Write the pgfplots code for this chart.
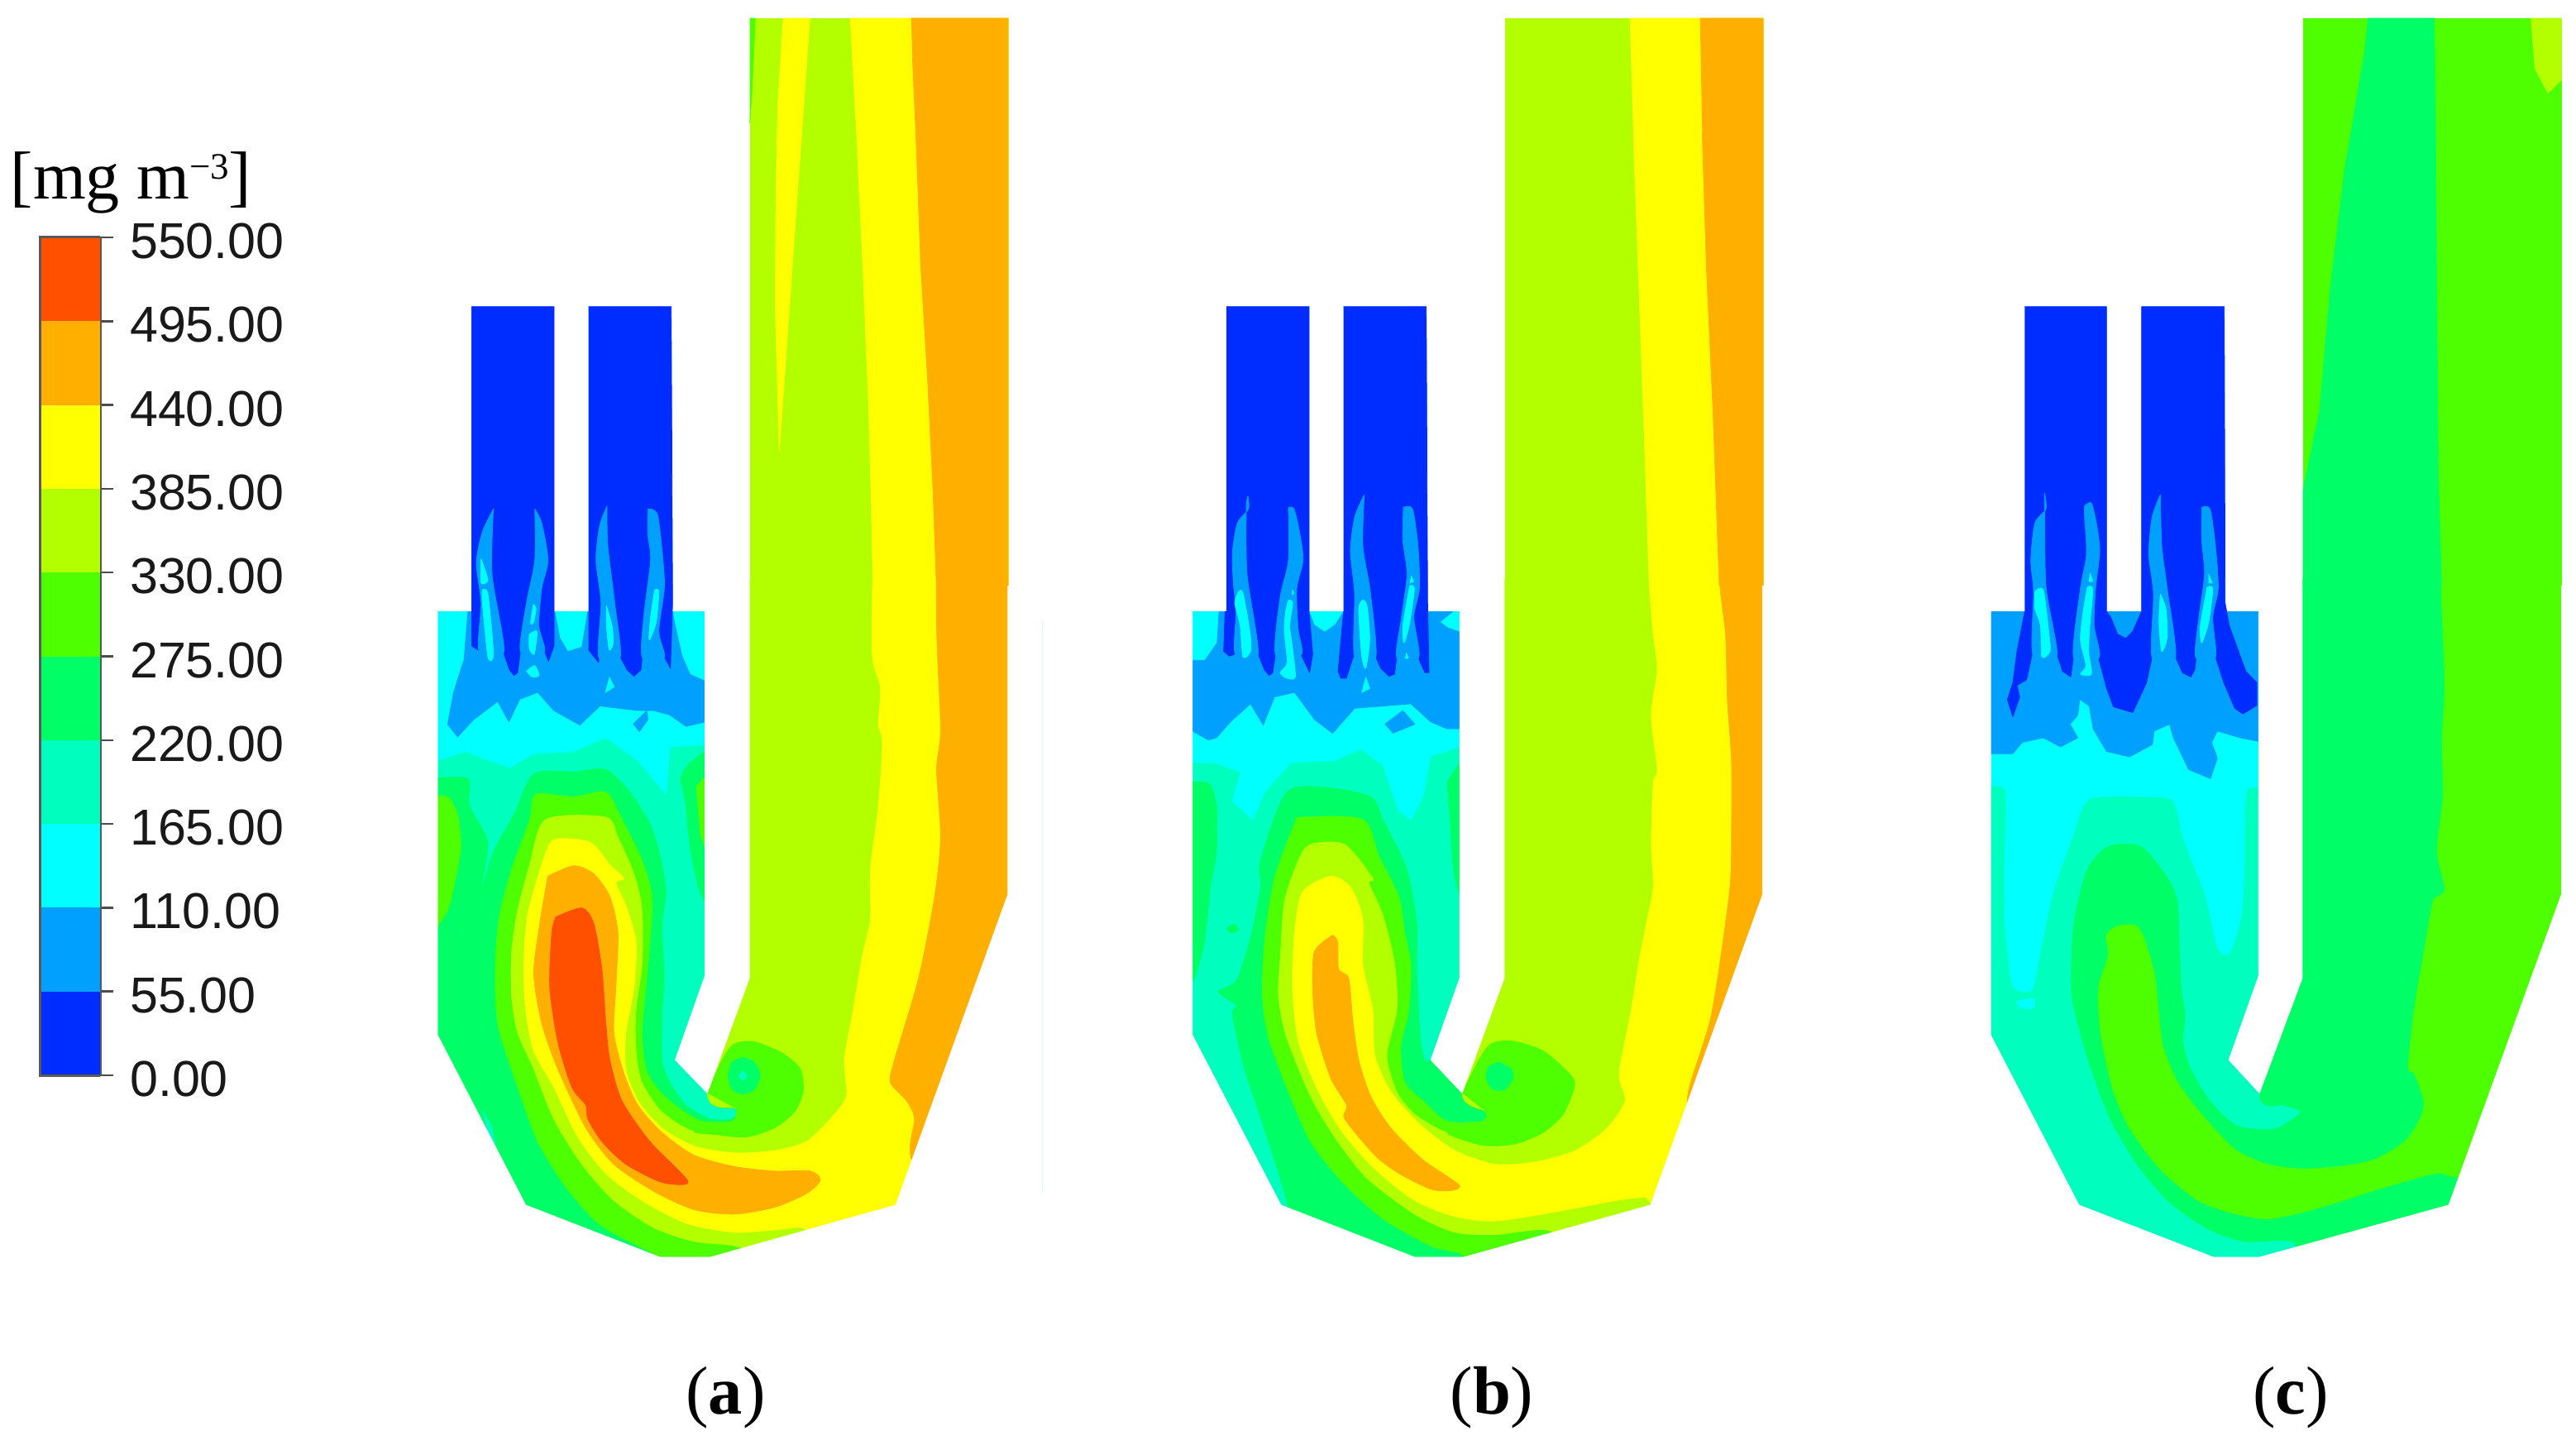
\documentclass[border=0pt]{standalone}
\usepackage{fontspec}
\setmainfont{Liberation Sans}
\newfontfamily\serif{Liberation Serif}
\usepackage{pgfplots}
\pgfplotsset{compat=1.18}
\definecolor{ca}{RGB}{0,45,255}
\definecolor{cb}{RGB}{0,160,255}
\definecolor{cc}{RGB}{0,255,255}
\definecolor{cd}{RGB}{0,255,191}
\definecolor{ce}{RGB}{0,255,102}
\definecolor{cf}{RGB}{77,255,0}
\definecolor{cg}{RGB}{179,255,0}
\definecolor{ch}{RGB}{255,255,0}
\definecolor{ci}{RGB}{255,175,0}
\definecolor{cj}{RGB}{255,80,0}
\pgfplotsset{
 rg/.style={fill=#1,draw=#1,line width=0.15pt,line join=round},
 sm/.style={rg=#1,smooth,tension=0.45},
 pan/.style={hide axis,scale only axis,y dir=reverse,enlargelimits=false,clip=true,anchor=north west},
 low/.style={pan,height=172pt,xmin=0,xmax=1568,ymin=0,ymax=1568},
 upp/.style={pan,width=72pt,height=141.4pt,xmin=0,xmax=1080,ymin=0,ymax=1540},
 bur/.style={pan,width=68pt,height=108pt,xmin=0,xmax=1020,ymin=0,ymax=1568},
}
\begin{document}
\begin{tikzpicture}
\path[use as bounding box] (0,0) rectangle (623pt,-350.4pt);
% ---------- panel a, lower part
\begin{axis}[low,at={(100pt,-140pt)},width=152pt]
\addplot[rg=cd] coordinates {(60,70)(727,70)(727,875)(653,1060)(733,1133)(838,880)(838,0)(1483,0)(1483,695)(1203,1380)(740,1495)(615,1495)(280,1380)(60,1005)};
\addplot[rg=cc] coordinates {(60,70)(727,70)(727,365)(640,370)(630,475)(560,400)(480,350)(400,380)(300,385)(240,415)(190,400)(130,380)(60,400)};
\addplot[rg=cb] coordinates {(135,70)(352,70)(365,130)(385,160)(420,150)(435,70)(645,70)(670,170)(690,210)(727,225)(727,315)(680,325)(640,300)(600,290)(560,290)(465,280)(415,322)(350,290)(310,250)(265,265)(238,315)(210,270)(150,310)(110,348)(85,320)(100,250)(125,180)};
\addplot[rg=cb] coordinates {(548,320)(582,290)(585,310)(563,337)};
\addplot[sm=ce] coordinates {(40,440)(135,440)(140,500)(185,580)(170,680)(200,600)(250,520)(300,430)(400,425)(480,420)(540,470)(590,540)(615,610)(630,690)(620,760)(625,880)(620,960)(620,1060)(640,1110)(680,1160)(740,1190)(795,1190)(806,1168)(733,1133)(790,800)(790,-300)(1500,-300)(1500,1540)(40,1540)};
\addplot[sm=ce] coordinates {(665,440)(690,405)(750,395)(750,710)(715,690)(690,590)(680,500)};
\addplot[sm=cf] coordinates {(705,460)(750,430)(750,630)(715,560)};
\addplot[sm=cf] coordinates {(40,480)(85,480)(110,520)(118,590)(105,660)(85,730)(40,790)};
\addplot[rg=cd] coordinates {(170,1170)(195,1205)(205,1250)(190,1230)};
\addplot[sm=cf] coordinates {(620,1540)(600,1490)(560,1470)(460,1420)(380,1340)(310,1240)(260,1120)(215,1000)(205,930)(205,830)(215,740)(245,640)(290,530)(305,475)(400,480)(480,470)(520,530)(570,620)(595,700)(590,800)(580,900)(570,1000)(580,1080)(610,1125)(660,1165)(720,1195)(795,1195)(806,1168)(733,1133)(790,800)(790,-300)(1500,-300)(1500,1540)};
\addplot[sm=cg] coordinates {(830,1540)(820,1475)(700,1460)(600,1430)(500,1370)(420,1290)(350,1190)(300,1080)(260,1000)(245,920)(245,820)(260,730)(290,630)(330,530)(480,525)(510,570)(550,650)(570,730)(570,850)(555,950)(555,1040)(570,1110)(620,1175)(700,1218)(800,1218)(806,1168)(733,1133)(790,800)(790,-300)(1500,-300)(1500,1540)};
\addplot[sm=ch] coordinates {(990,1540)(980,1435)(900,1435)(800,1440)(680,1420)(570,1370)(480,1310)(410,1230)(350,1120)(300,1040)(280,950)(275,850)(285,740)(320,630)(350,575)(440,580)(490,630)(525,660)(505,670)(530,720)(555,800)(550,900)(530,1000)(530,1080)(560,1150)(620,1210)(700,1250)(800,1265)(900,1260)(980,1240)(1040,1190)(1080,1140)(1075,1060)(1095,960)(1120,830)(1140,750)(1140,640)(1160,500)(1170,360)(1160,320)(1165,240)(1145,170)(1145,0)(1145,-300)(1500,-300)(1500,1540)};
\addplot[sm=cf] coordinates {(733,1133)(770,1060)(800,1025)(850,1020)(920,1045)(965,1080)(972,1130)(950,1175)(900,1210)(830,1230)(760,1225)(700,1218)(795,1195)(806,1168)};
\addplot[sm=ce] coordinates {(822,1055)(850,1065)(865,1095)(850,1125)(822,1135)(795,1125)(785,1095)(795,1065)(822,1055)};
\addplot[sm=cd] coordinates {(822,1085)(832,1095)(822,1105)(812,1095)(822,1085)};
\addplot[sm=ci] coordinates {(1305,-300)(1305,100)(1315,330)(1305,420)(1315,570)(1300,700)(1260,880)(1200,1060)(1190,1110)(1230,1150)(1250,1190)(1240,1270)(1300,1400)(1500,1540)(1500,-300)};
\addplot[sm=ci] coordinates {(335,655)(400,632)(450,650)(490,700)(510,780)(505,900)(500,1000)(525,1090)(560,1160)(620,1220)(700,1270)(800,1295)(900,1305)(990,1305)(1015,1325)(980,1355)(900,1385)(800,1400)(700,1390)(600,1350)(500,1290)(430,1210)(360,1080)(320,980)(300,870)(315,760)(335,655)};
\addplot[sm=cj] coordinates {(355,745)(420,725)(450,760)(470,860)(480,980)(490,1060)(520,1150)(590,1240)(685,1328)(620,1330)(530,1290)(470,1240)(435,1190)(430,1160)(395,1120)(360,1020)(340,900)(345,780)(355,745)};
\addplot[rg=white] coordinates {(-30,-30)(838,-30)(838,880)(733,1133)(653,1060)(727,875)(727,70)(60,70)(60,1005)(280,1380)(615,1495)(740,1495)(1203,1380)(1483,695)(1483,-30)(1650,-30)(1650,1650)(-30,1650)};
\end{axis}
% ---------- panel a, duct
\begin{axis}[upp,at={(176pt,0pt)}]
\addplot[rg=cg] coordinates {(80,48)(1017,48)(1017,1545)(80,1545)};
\addplot[rg=cf] coordinates {(80,48)(100,48)(88,240)(80,325)};
\addplot[rg=ch] coordinates {(200,48)(298,48)(240,640)(187,1190)(172,800)(175,500)(182,260)};
\addplot[rg=ch] coordinates {(443,48)(1017,48)(1017,1545)(527,1545)(520,1300)(510,1050)(490,700)(470,400)};
\addplot[rg=ci] coordinates {(665,48)(1017,48)(1017,1545)(757,1545)(745,1300)(725,1000)(700,700)(685,400)(670,150)};
\end{axis}
% ---------- panel a, burners
\begin{axis}[bur,at={(108pt,-70pt)}]
\addplot[rg=ca] coordinates {(90,60)(390,60)(390,1250)(370,1305)(355,1270)(268,1270)(258,1345)(245,1355)(228,1335)(205,1270)(120,1270)(90,1250)};
\addplot[sm=cb] coordinates {(170,770)(130,850)(108,960)(125,1100)(118,1272)(208,1272)(165,1000)(170,770)};
\addplot[sm=cb] coordinates {(320,770)(345,820)(368,950)(345,1050)(335,1180)(355,1272)(268,1272)(290,1100)(320,950)(320,770)};
\addplot[sm=cc] coordinates {(125,945)(150,1020)(125,1030)(125,945)};
\addplot[sm=cc] coordinates {(130,1055)(150,1070)(170,1280)(150,1290)(130,1100)(130,1055)};
\addplot[sm=cc] coordinates {(315,1105)(325,1120)(315,1170)(305,1170)(315,1105)};
\addplot[sm=cc] coordinates {(300,1210)(328,1200)(318,1280)(300,1260)(300,1210)};
\addplot[sm=cc] coordinates {(290,1340)(320,1320)(335,1355)(310,1360)(290,1340)};
\addplot[rg=ca] coordinates {(515,60)(815,60)(820,1100)(812,1330)(790,1290)(710,1290)(705,1335)(680,1358)(655,1335)(630,1290)(552,1290)(552,1310)(515,1265)};
\addplot[sm=cb] coordinates {(582,760)(555,830)(542,950)(560,1100)(552,1292)(630,1292)(610,1100)(585,900)(582,760)};
\addplot[sm=cb] coordinates {(730,770)(765,790)(785,950)(790,1050)(770,1200)(790,1292)(710,1292)(715,1150)(740,950)(730,860)(730,770)};
\addplot[sm=cc] coordinates {(580,1110)(600,1180)(605,1240)(590,1265)(580,1180)(580,1110)};
\addplot[sm=cc] coordinates {(755,1055)(770,1060)(760,1170)(735,1230)(740,1150)(755,1055)};
\addplot[rg=cc] coordinates {(590,1360)(608,1395)(575,1415)};
\end{axis}
% ---------- panel b, lower part
\begin{axis}[low,at={(284pt,-140pt)},width=152pt]
\addplot[rg=cd] coordinates {(45,70)(712,70)(712,880)(640,1060)(718,1133)(823,880)(823,0)(1468,0)(1468,695)(1188,1380)(722,1495)(600,1495)(266,1380)(45,1005)};
\addplot[rg=cc] coordinates {(45,70)(712,70)(712,370)(640,390)(620,480)(590,530)(560,510)(520,410)(465,375)(400,400)(290,405)(225,470)(195,530)(145,490)(165,425)(100,405)(45,405)};
\addplot[rg=cb] coordinates {(45,70)(712,70)(712,330)(680,330)(640,315)(590,275)(450,285)(395,340)(350,310)(300,250)(250,260)(222,322)(190,275)(140,315)(105,350)(85,355)(45,335)};
\addplot[rg=cc] coordinates {(45,70)(110,70)(105,140)(75,178)(45,178)};
\addplot[rg=cc] coordinates {(336,70)(422,70)(400,100)(375,115)(350,100)};
\addplot[rg=cc] coordinates {(665,95)(700,70)(712,70)(712,115)(680,105)};
\addplot[rg=cb] coordinates {(525,320)(570,290)(600,320)(545,340)};
\addplot[sm=ce] coordinates {(300,1540)(285,1388)(220,1200)(175,1080)(145,960)(155,940)(110,910)(155,885)(190,790)(215,680)(215,620)(280,470)(380,460)(490,480)(520,530)(580,640)(605,760)(605,860)(615,1020)(640,1060)(770,900)(770,-300)(1500,-300)(1500,1540)};
\addplot[sm=ce] coordinates {(25,450)(85,450)(105,500)(105,600)(90,680)(75,800)(50,880)(25,905)};
\addplot[sm=ce] coordinates {(680,450)(735,405)(735,730)(700,660)(690,560)};
\addplot[sm=ce] coordinates {(130,770)(150,760)(160,775)(140,780)(130,770)};
\addplot[sm=cf] coordinates {(730,1540)(720,1490)(640,1470)(520,1410)(420,1330)(340,1240)(280,1120)(235,1010)(220,920)(225,800)(250,660)(300,540)(320,525)(470,530)(510,610)(560,700)(575,780)(590,850)(585,950)(565,1030)(575,1110)(620,1150)(680,1195)(770,1195)(778,1175)(718,1133)(770,900)(770,-300)(1500,-300)(1500,1540)};
\addplot[sm=cg] coordinates {(950,1540)(940,1438)(800,1445)(700,1440)(600,1400)(480,1320)(400,1230)(340,1140)(280,1010)(260,920)(265,830)(275,710)(310,620)(340,585)(425,585)(495,660)(485,670)(520,740)(550,850)(555,950)(530,1050)(555,1130)(600,1180)(680,1220)(770,1220)(778,1175)(718,1133)(770,900)(770,-300)(1500,-300)(1500,1540)};
\addplot[sm=ch] coordinates {(1175,1362)(1100,1370)(950,1395)(800,1415)(700,1405)(600,1370)(500,1300)(420,1220)(360,1130)(310,1020)(295,900)(300,780)(320,690)(390,655)(440,680)(470,750)(470,850)(495,950)(500,1050)(540,1130)(610,1200)(700,1260)(800,1290)(900,1285)(1000,1260)(1080,1210)(1125,1150)(1110,1090)(1140,950)(1160,840)(1180,750)(1195,680)(1190,580)(1195,450)(1205,420)(1190,300)(1205,200)(1195,120)(1185,0)(1185,-300)(1500,-300)(1500,1540)(1230,1420)};
\addplot[sm=cf] coordinates {(718,1133)(760,1060)(790,1025)(840,1018)(920,1040)(990,1095)(998,1120)(970,1180)(920,1220)(850,1245)(770,1248)(680,1220)(770,1195)(778,1175)};
\addplot[sm=ce] coordinates {(810,1065)(840,1080)(845,1100)(825,1125)(795,1125)(778,1100)(785,1075)(810,1065)};
\addplot[sm=ci] coordinates {(395,785)(408,800)(410,860)(435,880)(445,970)(460,1060)(490,1140)(540,1210)(620,1280)(710,1335)(690,1348)(640,1345)(560,1310)(500,1270)(425,1190)(430,1160)(390,1100)(355,1000)(345,900)(350,820)(395,785)};
\addplot[sm=ci] coordinates {(1345,-300)(1360,0)(1375,120)(1380,270)(1390,400)(1390,560)(1385,690)(1340,960)(1280,1145)(1320,1250)(1500,1540)(1500,-300)};
\addplot[rg=white] coordinates {(-30,-30)(823,-30)(823,880)(718,1133)(640,1060)(712,880)(712,70)(45,70)(45,1005)(266,1380)(600,1495)(722,1495)(1188,1380)(1468,695)(1468,-30)(1650,-30)(1650,1650)(-30,1650)};
\end{axis}
% ---------- panel b, duct
\begin{axis}[upp,at={(360pt,0pt)}]
\addplot[rg=cg] coordinates {(60,48)(996,48)(996,1545)(60,1545)};
\addplot[rg=ch] coordinates {(512,48)(996,48)(996,1545)(583,1545)(565,1150)(545,750)(525,350)};
\addplot[rg=ci] coordinates {(767,48)(996,48)(996,1545)(837,1545)(815,1100)(790,700)(775,350)};
\end{axis}
% ---------- panel b, burners
\begin{axis}[bur,at={(290.6pt,-70pt)}]
\addplot[rg=ca] coordinates {(90,60)(390,60)(390,1130)(403,1280)(392,1345)(360,1280)(268,1280)(258,1345)(245,1355)(228,1335)(205,1280)(122,1280)(100,1287)(80,1270)(85,1130)(90,1130)};
\addplot[sm=cb] coordinates {(168,725)(170,770)(130,820)(112,920)(115,1030)(125,1130)(122,1282)(205,1282)(165,1000)(162,770)(168,725)};
\addplot[sm=cb] coordinates {(315,765)(335,770)(355,850)(368,950)(345,1050)(350,1190)(362,1282)(268,1282)(285,1080)(315,950)(315,765)};
\addplot[sm=cc] coordinates {(135,1060)(150,1065)(175,1200)(178,1270)(150,1290)(140,1180)(120,1100)(135,1060)};
\addplot[sm=cc] coordinates {(315,1090)(330,1100)(320,1180)(330,1260)(340,1360)(310,1365)(285,1345)(310,1310)(300,1200)(305,1130)(315,1090)};
\addplot[rg=cc] coordinates {(328,1055)(335,1065)(328,1072)};
\addplot[rg=ca] coordinates {(515,60)(815,60)(820,1100)(825,1345)(810,1345)(785,1290)(708,1290)(700,1350)(680,1358)(650,1330)(632,1290)(550,1290)(525,1365)(505,1365)(495,1340)(515,1130)};
\addplot[sm=cb] coordinates {(590,720)(555,800)(540,920)(555,1070)(555,1292)(632,1292)(612,1060)(585,900)(590,720)};
\addplot[sm=cb] coordinates {(732,765)(765,770)(785,900)(790,1050)(770,1150)(788,1292)(708,1292)(725,1150)(745,1000)(730,880)(732,765)};
\addplot[sm=cc] coordinates {(585,1090)(600,1110)(610,1230)(595,1330)(580,1280)(570,1120)(585,1090)};
\addplot[rg=cc] coordinates {(595,1360)(610,1400)(580,1415)};
\addplot[sm=cc] coordinates {(755,1040)(772,1050)(755,1170)(735,1240)(730,1180)(755,1040)};
\addplot[rg=cc] coordinates {(760,1005)(770,1025)(755,1030)};
\addplot[rg=cc] coordinates {(742,1275)(750,1295)(738,1295)};
\end{axis}
% ---------- panel c, lower part
\begin{axis}[low,at={(478pt,-140pt)},width=145pt]
\addplot[rg=cd] coordinates {(37,70)(738,70)(738,875)(660,1060)(740,1133)(852,880)(852,0)(1530,0)(1530,695)(1235,1380)(740,1495)(620,1495)(268,1380)(37,1005)};
\addplot[sm=cc] coordinates {(15,460)(75,465)(75,600)(75,760)(90,880)(105,905)(145,905)(165,830)(200,690)(250,570)(295,485)(450,480)(515,490)(545,580)(600,700)(630,810)(660,825)(690,750)(700,650)(705,470)(760,430)(760,40)(15,40)};
\addplot[sm=cc] coordinates {(105,930)(150,925)(150,945)(115,945)(105,930)};
\addplot[rg=cb] coordinates {(37,70)(738,70)(738,358)(690,350)(630,335)(615,360)(630,395)(612,440)(555,420)(515,350)(505,320)(465,335)(460,365)(400,392)(340,380)(305,330)(295,280)(270,265)(265,300)(245,320)(265,350)(220,370)(175,350)(120,360)(95,385)(37,385)};
\addplot[sm=ce] coordinates {(840,1540)(830,1462)(700,1460)(600,1430)(500,1370)(420,1290)(350,1190)(300,1080)(262,970)(248,900)(255,760)(290,640)(345,590)(430,590)(500,660)(525,710)(530,800)(535,900)(545,960)(540,1020)(560,1080)(610,1150)(680,1205)(780,1212)(848,1175)(805,1160)(740,1133)(800,800)(800,-300)(1550,-300)(1550,1540)};
\addplot[sm=cf] coordinates {(1215,-300)(1215,0)(1225,230)(1218,350)(1220,480)(1205,600)(1225,685)(1195,710)(1175,800)(1145,950)(1130,1075)(1145,1090)(1170,1150)(1160,1190)(1120,1240)(1040,1280)(950,1295)(850,1300)(760,1290)(680,1260)(620,1210)(560,1150)(520,1100)(485,1020)(465,870)(425,770)(370,765)(340,785)(345,830)(320,900)(325,1000)(355,1120)(400,1210)(480,1300)(580,1370)(680,1400)(770,1410)(900,1385)(1050,1345)(1200,1310)(1300,1300)(1550,1000)(1550,-300)};
\addplot[rg=white] coordinates {(-30,-30)(852,-30)(852,880)(740,1133)(660,1060)(738,875)(738,70)(37,70)(37,1005)(268,1380)(620,1495)(740,1495)(1235,1380)(1530,695)(1530,-30)(1650,-30)(1650,1650)(-30,1650)};
\end{axis}
% ---------- panel c, duct
\begin{axis}[upp,at={(551pt,0pt)}]
\addplot[rg=cf] coordinates {(90,48)(1027,48)(1027,1545)(90,1545)};
\addplot[rg=ce] coordinates {(325,48)(565,48)(570,300)(575,800)(580,1250)(592,1545)(90,1545)(90,1290)(150,1080)(190,750)(240,450)(310,150)};
\addplot[rg=cg] coordinates {(915,48)(1027,48)(1027,210)(978,245)(930,180)};
\end{axis}
% ---------- panel c, burners
\begin{axis}[bur,at={(483.8pt,-70pt)}]
\addplot[rg=ca] coordinates {(88,60)(385,60)(385,1130)(400,1150)(425,1210)(455,1225)(480,1200)(512,1130)(512,60)(812,60)(815,1100)(830,1180)(860,1260)(890,1340)(930,1380)(930,1460)(880,1490)(850,1470)(810,1380)(780,1290)(710,1290)(705,1335)(690,1360)(660,1345)(635,1290)(550,1290)(530,1380)(480,1485)(410,1465)(385,1400)(355,1290)(265,1290)(255,1360)(225,1340)(205,1280)(115,1280)(95,1370)(60,1390)(70,1430)(45,1500)(25,1440)(45,1380)(60,1270)(88,1130)};
\addplot[sm=cb] coordinates {(160,715)(165,770)(125,820)(110,950)(120,1060)(118,1285)(205,1285)(165,1040)(160,715)};
\addplot[sm=cb] coordinates {(305,760)(330,750)(350,830)(360,920)(345,1050)(340,1180)(358,1292)(265,1292)(290,1050)(312,930)(305,800)(305,760)};
\addplot[sm=cb] coordinates {(580,720)(550,800)(538,930)(555,1070)(550,1292)(635,1292)(605,1050)(585,900)(580,720)};
\addplot[sm=cb] coordinates {(730,765)(760,770)(780,900)(790,1050)(770,1150)(780,1292)(708,1292)(720,1150)(740,1000)(730,880)(730,765)};
\addplot[sm=cc] coordinates {(125,1060)(155,1055)(175,1200)(180,1270)(150,1290)(145,1180)(125,1120)(125,1060)};
\addplot[sm=cc] coordinates {(315,1045)(335,1050)(325,1170)(320,1270)(330,1350)(290,1350)(310,1320)(290,1230)(300,1130)(315,1045)};
\addplot[rg=cc] coordinates {(325,995)(335,1025)(320,1025)};
\addplot[sm=cc] coordinates {(580,1070)(600,1120)(605,1220)(585,1270)(575,1170)(580,1070)};
\addplot[rg=cc] coordinates {(755,1000)(768,1030)(755,1030)};
\addplot[sm=cc] coordinates {(750,1045)(770,1050)(755,1170)(730,1240)(725,1180)(750,1045)};
\end{axis}
% ---------- colour bar
\begin{axis}[scale only axis,anchor=north west,at={(9.7pt,-57.4pt)},width=14.4pt,height=202.6pt,
 xmin=0,xmax=1,ymin=0,ymax=550,enlargelimits=false,
 axis x line=none,axis y line=right,axis line style={-,draw=black!65,line width=0.8pt},
 ytick={0,55,110,165,220,275,330,385,440,495,550},
 tick align=outside,major tick length=3.2pt,
 tick style={draw=black!70,line width=0.5pt},
 yticklabel style={/pgf/number format/fixed,/pgf/number format/zerofill,/pgf/number format/precision=2,/pgf/number format/assume math mode=true,/pgf/number format/1000 sep={},anchor=west,xshift=0.6pt,yshift=-0.9pt,font=\fontsize{12.2}{14}\selectfont,text=black!90},
 clip=false]
\addplot[fill=ca,draw=none] coordinates {(0,0)(1,0)(1,55)(0,55)};
\addplot[fill=cb,draw=none] coordinates {(0,55)(1,55)(1,110)(0,110)};
\addplot[fill=cc,draw=none] coordinates {(0,110)(1,110)(1,165)(0,165)};
\addplot[fill=cd,draw=none] coordinates {(0,165)(1,165)(1,220)(0,220)};
\addplot[fill=ce,draw=none] coordinates {(0,220)(1,220)(1,275)(0,275)};
\addplot[fill=cf,draw=none] coordinates {(0,275)(1,275)(1,330)(0,330)};
\addplot[fill=cg,draw=none] coordinates {(0,330)(1,330)(1,385)(0,385)};
\addplot[fill=ch,draw=none] coordinates {(0,385)(1,385)(1,440)(0,440)};
\addplot[fill=ci,draw=none] coordinates {(0,440)(1,440)(1,495)(0,495)};
\addplot[fill=cj,draw=none] coordinates {(0,495)(1,495)(1,550)(0,550)};
\addplot[draw=black!65,line width=0.6pt] coordinates {(1,550)(0,550)(0,0)(1,0)};
\end{axis}
\node[anchor=center,text=black] at (31.7pt,-44.2pt) {\serif\fontsize{16.4}{18}\selectfont [mg m\raisebox{4.8pt}{\fontsize{9}{9}\selectfont −3}]};
\node[anchor=center] at (175.5pt,-338pt) {\serif\fontsize{16.5}{18}\selectfont (\textbf{a})};
\node[anchor=center] at (360.8pt,-338pt) {\serif\fontsize{16.5}{18}\selectfont (\textbf{b})};
\node[anchor=center] at (554pt,-338pt) {\serif\fontsize{16.5}{18}\selectfont (\textbf{c})};
\end{tikzpicture}
\end{document}
